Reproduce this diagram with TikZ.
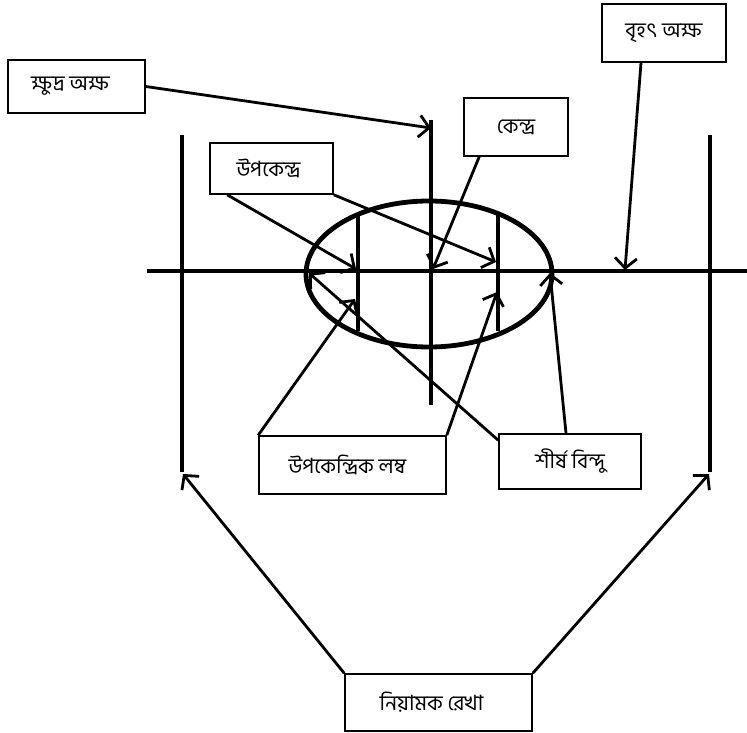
\documentclass[tikz,border=0pt]{standalone}
\usepackage{fontspec}
\newfontfamily\bn[Script=Bengali]{Hind Siliguri}
\usetikzlibrary{arrows.meta}
\begin{document}
\begin{tikzpicture}[x=1pt,y=-1pt,
  box/.style={draw, line width=1.6pt, inner sep=0pt, font=\bn\fontsize{21}{24}\selectfont},
  geo/.style={line width=3.2pt},
  conn/.style={line width=2.8pt, -{Straight Barb[length=10pt,width=22pt]}}]
\useasboundingbox (0,0) rectangle (747,733);
% geometry
\draw[geo] (147,271) -- (747,271);
\draw[geo] (182,135) -- (182,472);
\draw[geo] (710,135) -- (710,472);
\draw[geo] (431,120) -- (431,405);
\draw[geo] (358,215) -- (358,331);
\draw[geo] (498,215) -- (498,331);
\draw[line width=4.8pt] (429,274) ellipse [x radius=123, y radius=73];
% targets
\coordinate (tMinor) at (431,128);
\coordinate (tMajor) at (625,270);
\coordinate (tCenter) at (433,269);
\coordinate (tF1) at (356,269);
\coordinate (tF2) at (496,262);
\coordinate (tL1) at (355,299);
\coordinate (tL2) at (497,292);
\coordinate (tV1) at (309,273);
\coordinate (tV2) at (550,273);
\coordinate (tD1) at (183,474);
\coordinate (tD2) at (709,474);
% boxes
\node[box, minimum width=137pt, minimum height=53pt] (k) at (76.5,86.5) {\hspace*{-12pt}ক্ষুদ্র অক্ষ};
\node[box, minimum width=124pt, minimum height=58pt] (b) at (664,33) {বৃহৎ অক্ষ};
\node[box, minimum width=104pt, minimum height=58pt] (c) at (516,127) {কেন্দ্র};
\node[box, minimum width=123pt, minimum height=51pt] (u) at (271.5,168.5) {\hspace*{-6pt}উপকেন্দ্র};
\node[box, minimum width=187pt, minimum height=58pt] (l) at (352.5,465) {\hspace*{-10pt}উপকেন্দ্রিক লম্ব};
\node[box, minimum width=142pt, minimum height=55pt] (s) at (570,461.5) {শীর্ষ বিন্দু};
\node[box, minimum width=187pt, minimum height=57pt] (n) at (438.5,702.5) {\hspace*{-14pt}নিয়ামক রেখা};
% connectors
\draw[conn] (k.east) -- (tMinor);
\draw[conn] ([xshift=-23pt]b.south) -- (tMajor);
\draw[conn] ([xshift=16pt]c.south west) -- (tCenter);
\draw[conn] ([xshift=18pt]u.south west) -- (tF1);
\draw[conn] (u.south east) -- (tF2);
\draw[conn] (l.north west) -- (tL1);
\draw[conn] (l.north east) -- (tL2);
\draw[conn] ([yshift=-7pt]s.north west) -- (tV1);
\draw[conn] ([xshift=-4pt]s.north) -- (tV2);
\draw[conn] (n.north west) -- (tD1);
\draw[conn] (n.north east) -- (tD2);
\end{tikzpicture}
\end{document}
